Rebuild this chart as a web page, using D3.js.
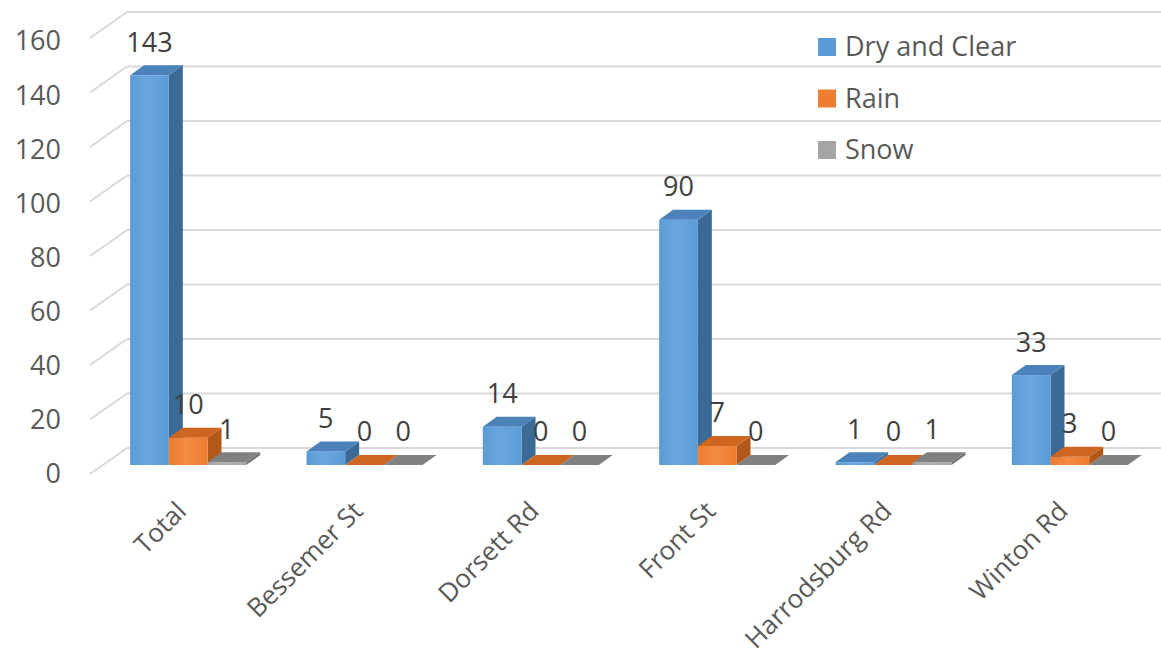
<!DOCTYPE html>
<html>
<head>
<meta charset="utf-8">
<script src="https://cdn.jsdelivr.net/npm/d3@7"></script>
<style>
  body { margin: 0; background: #fff; }
  text { font-family: "Open Sans", sans-serif; }
</style>
</head>
<body>
<div id="chart"></div>
<script>
var WD = 1161, HT = 667

// data
var categories = ["Total", "Bessemer St", "Dorsett Rd", "Front St", "Harrodsburg Rd", "Winton Rd"]
var seriesNames = ["Dry and Clear", "Rain", "Snow"]
var dryClear = [143, 5, 14, 90, 1, 33]
var rain = [10, 0, 0, 7, 0, 3]
var snow = [1, 0, 0, 0, 1, 0]
var yTicks = [0, 20, 40, 60, 80, 100, 120, 140, 160]

var seriesValues = [dryClear, rain, snow]

// face colours: front, top, side
var faces = {
  "Dry and Clear": { front: "#5b9bd5", light: "#6aa7de", top: "#4a82b9", side: "#3b6a96" },
  "Rain": { front: "#ed7d31", light: "#f38b42", top: "#cf6620", side: "#b4581a" },
  "Snow": { front: "#a5a5a5", light: "#b0b0b0", top: "#808080", side: "#6f6f6f" }
}

// 3d offsets
var wallDX = -37, wallDY = 26   // back wall -> front axis plane
var barDX = 14, barDY = -10      // bar front -> bar back

var yBack = d3.scaleLinear().domain([0, 160]).range([448, 12])
var yAxisFront = d3.scaleLinear().domain([0, 160]).range([474, 41])
var yBar = d3.scaleLinear().domain([0, 160]).range([465, 29])

var x0 = d3.scaleBand().domain(categories).range([100, 1158])
  .paddingInner(0.342).paddingOuter(0.171)
var x1 = d3.scaleBand().domain(seriesNames).range([0, x0.bandwidth()])

var svg = d3.select("#chart").append("svg")
  .attr("width", WD).attr("height", HT)

var defs = svg.append("defs")
seriesNames.forEach(function(s, i) {
  var g = defs.append("linearGradient").attr("id", "grad" + i)
    .attr("x1", "0").attr("x2", "1").attr("y1", "0").attr("y2", "0")
  g.append("stop").attr("offset", "0%").attr("stop-color", faces[s].front)
  g.append("stop").attr("offset", "45%").attr("stop-color", faces[s].light)
  g.append("stop").attr("offset", "100%").attr("stop-color", faces[s].front)
})

// gridlines on back and left walls
var wallLeft = 127
var grid = svg.append("g")
grid.selectAll("line.back").data(yTicks).enter().append("line")
  .attr("x1", wallLeft).attr("x2", WD)
  .attr("y1", function(d) { return yBack(d) }).attr("y2", function(d) { return yBack(d) })
  .attr("stroke", "#d9d9d9").attr("stroke-width", 2)
grid.selectAll("line.side").data(yTicks).enter().append("line")
  .attr("x1", wallLeft + wallDX).attr("x2", wallLeft)
  .attr("y1", function(d) { return yBack(d) + wallDY }).attr("y2", function(d) { return yBack(d) })
  .attr("stroke", "#d9d9d9").attr("stroke-width", 2)

// y tick labels
svg.append("g").selectAll("text").data(yTicks).enter().append("text")
  .attr("x", 61).attr("y", function(d) { return yAxisFront(d) })
  .attr("dy", "0.35em").attr("text-anchor", "end")
  .attr("font-size", 27).attr("fill", "#595959")
  .text(function(d) { return d })

// bars
var bars = []
categories.forEach(function(c, ci) {
  seriesNames.forEach(function(s, si) {
    bars.push({ cat: c, series: s, si: si, value: seriesValues[si][ci] })
  })
})

var barG = svg.append("g")
bars.forEach(function(d) {
  var xl = x0(d.cat) + x1(d.series)
  var xr = xl + x1.bandwidth()
  var yt = yBar(d.value), yb = yBar(0)
  var f = faces[d.series]
  var g = barG.append("g")
  // side face
  g.append("polygon")
    .attr("points", [[xr, yt], [xr + barDX, yt + barDY], [xr + barDX, yb + barDY], [xr, yb]].join(" "))
    .attr("fill", f.side)
  // front face
  g.append("rect")
    .attr("x", xl).attr("y", yt)
    .attr("width", x1.bandwidth()).attr("height", Math.max(0, yb - yt))
    .attr("fill", "url(#grad" + d.si + ")")
  // top face
  g.append("polygon")
    .attr("points", [[xl, yt], [xr, yt], [xr + barDX, yt + barDY], [xl + barDX, yt + barDY]].join(" "))
    .attr("fill", f.top)
})

// data labels
svg.append("g").selectAll("text").data(bars).enter().append("text")
  .attr("x", function(d) { return x0(d.cat) + x1(d.series) + x1.bandwidth() / 2 })
  .attr("y", function(d) { return yBar(d.value) - 33 })
  .attr("dy", "0.35em").attr("text-anchor", "middle")
  .attr("font-size", 27).attr("fill", "#404040")
  .text(function(d) { return d.value })

// category labels
svg.append("g").selectAll("text").data(categories).enter().append("text")
  .attr("transform", function(d) {
    return "translate(" + (x0(d) + x0.bandwidth() / 2 - 14) + ",499) rotate(-45)"
  })
  .attr("text-anchor", "end").attr("dy", "0.75em")
  .attr("font-size", 26).attr("fill", "#595959")
  .text(function(d) { return d })

// legend
var legend = svg.append("g").selectAll("g").data(seriesNames).enter().append("g")
  .attr("transform", function(d, i) { return "translate(818," + (47 + i * 51.5) + ")" })
legend.append("rect")
  .attr("x", 0).attr("y", -9).attr("width", 18).attr("height", 18)
  .attr("fill", function(d) { return faces[d].front })
legend.append("text")
  .attr("x", 27).attr("y", 0).attr("dy", "0.35em")
  .attr("font-size", 27).attr("fill", "#595959")
  .text(function(d) { return d })
</script>
</body>
</html>
